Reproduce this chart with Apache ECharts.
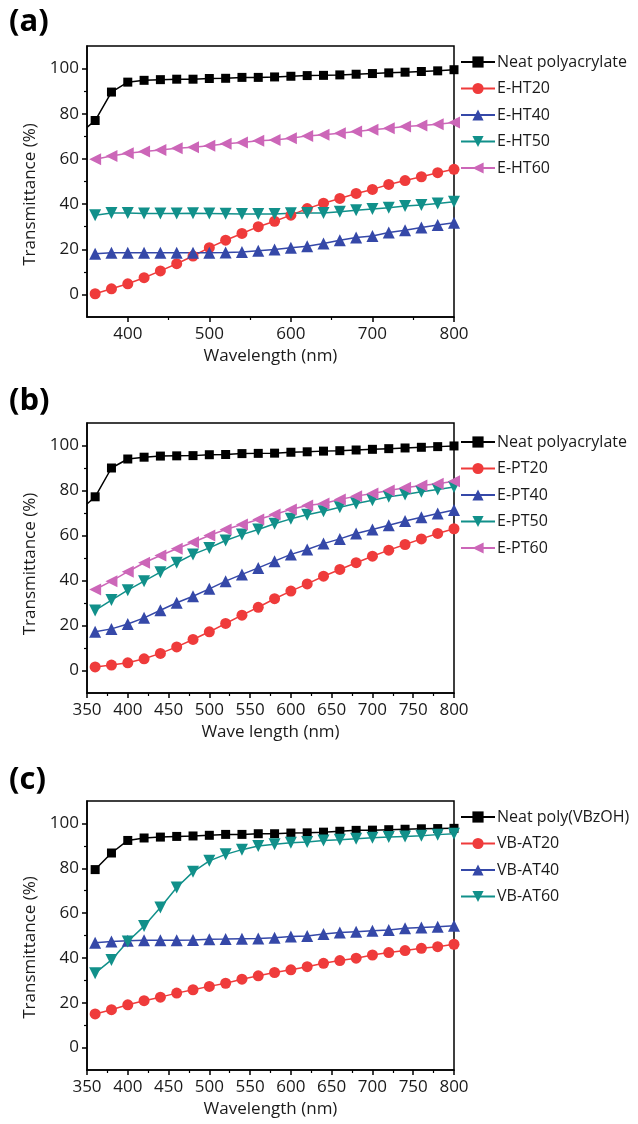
<!DOCTYPE html>
<html>
<head>
<meta charset="utf-8">
<script src="https://cdn.jsdelivr.net/npm/echarts@6/dist/echarts.min.js"></script>
<style>
  html, body { margin: 0; padding: 0; background: #fff; }
  #chart { width: 638px; height: 1124px; }
</style>
</head>
<body>
<div id="chart"></div>
<script>
// wavelengths of the marked points (nm)
const WL = [360, 380, 400, 420, 440, 460, 480, 500, 520, 540, 560, 580, 600, 620, 640, 660, 680, 700, 720, 740, 760, 780, 800]

// (a) HT series
const A_NEAT_START = 74
const A_NEAT = [77, 89.6, 94, 94.8, 95.1, 95.3, 95.3, 95.6, 95.7, 96.1, 96.1, 96.3, 96.6, 96.9, 97.0, 97.2, 97.5, 97.8, 98.1, 98.4, 98.7, 99.0, 99.5]
const A_HT20 = [0.3, 2.5, 4.7, 7.4, 10.4, 13.6, 17, 20.7, 24, 27, 30, 32.4, 35.1, 38, 40.4, 42.5, 44.7, 46.5, 48.7, 50.4, 52.1, 53.9, 55.4]
const A_HT40 = [18, 18.4, 18.4, 18.4, 18.4, 18.4, 18.5, 18.5, 18.6, 18.8, 19.3, 19.9, 20.7, 21.3, 22.5, 24, 25.2, 25.9, 27.4, 28.4, 29.6, 30.7, 31.7]
const A_HT50 = [35.1, 36.1, 36.1, 35.8, 35.8, 35.8, 35.9, 35.8, 35.7, 35.6, 35.6, 35.6, 35.9, 36.1, 36.1, 36.6, 37.3, 37.8, 38.4, 39.1, 39.6, 40.3, 41]
const A_HT60 = [59.9, 61.3, 62.5, 63.3, 64, 64.7, 65.2, 65.8, 66.7, 67.3, 68, 68.4, 69.2, 70.2, 70.7, 71.4, 72.1, 72.9, 73.6, 74.4, 74.8, 75.4, 76.1]

// (b) PT series
const B_NEAT_START = 74
const B_NEAT = [77.2, 90, 94, 94.8, 95.3, 95.4, 95.5, 95.9, 96, 96.4, 96.5, 96.6, 97, 97.2, 97.5, 97.7, 98, 98.3, 98.6, 98.9, 99.2, 99.5, 99.8]
const B_PT20 = [1.6, 2.4, 3.4, 5.2, 7.6, 10.5, 13.8, 17.2, 20.9, 24.6, 28.1, 31.9, 35.3, 38.5, 41.9, 44.9, 47.9, 50.8, 53.5, 56, 58.5, 60.9, 63]
const B_PT40 = [17.2, 18.5, 20.7, 23.4, 26.8, 30.1, 33, 36.3, 39.7, 42.7, 45.6, 48.6, 51.6, 53.8, 56.4, 58.5, 60.9, 62.7, 64.6, 66.4, 68.1, 69.8, 71.3]
const B_PT50 = [26.7, 31.3, 35.7, 39.7, 43.7, 47.9, 51.6, 54.5, 57.8, 60.4, 62.7, 65.2, 67.4, 69.2, 70.8, 72.6, 74.2, 75.7, 77.2, 78.2, 79.4, 80.4, 81.6]
const B_PT60 = [36, 39.7, 43.9, 47.9, 51.1, 54.1, 57, 60, 62.7, 64.9, 67.1, 69.3, 71.6, 73.3, 74.2, 76, 77.5, 78.7, 80, 81.2, 82.2, 83, 84.1]

// (c) VB series
const C_NEAT = [79.4, 86.8, 92.4, 93.5, 93.9, 94.2, 94.4, 94.7, 95.1, 95.1, 95.4, 95.4, 95.7, 95.8, 96.1, 96.5, 96.9, 97.0, 97.2, 97.4, 97.6, 97.7, 97.8]
const C_AT20 = [15, 16.9, 19.1, 20.9, 22.5, 24.3, 25.8, 27.3, 28.7, 30.5, 32, 33.5, 34.7, 36.1, 37.6, 38.8, 39.9, 41.3, 42.4, 43.3, 44.3, 45, 46.1]
const C_AT40 = [46.8, 47.3, 47.7, 47.9, 47.9, 47.9, 48, 48.3, 48.4, 48.6, 48.7, 49, 49.5, 49.8, 50.7, 51.3, 51.7, 52.1, 52.4, 53.2, 53.6, 53.9, 54.4]
const C_AT60 = [33.2, 39.1, 47.3, 54.2, 62.5, 71.4, 78.4, 83.3, 86.2, 88.3, 89.9, 90.7, 91.4, 91.7, 92.4, 92.7, 93.2, 93.6, 93.9, 94.2, 94.5, 95, 95.4]

// tick positions
const Y_LABELS = [0, 20, 40, 60, 80, 100]
const Y_MINOR = [10, 30, 50, 70, 90]
const XA_LABELS = [400, 500, 600, 700, 800]
const XA_MINOR = [450, 550, 650, 750]
const XB_LABELS = [350, 400, 450, 500, 550, 600, 650, 700, 750, 800]
const XB_MINOR = [375, 425, 475, 525, 575, 625, 675, 725, 775]

const FONT = '"Open Sans", "Liberation Sans", sans-serif'
const TXT = '#1a1a1a'
const C_BLACK = '#000000'
const C_RED = '#ef3b3b'
const C_BLUE = '#3548a8'
const C_TEAL = '#11908a'
const C_PINK = '#cc66b8'

const pairs = (vals) => WL.map((x, i) => [x, vals[i]])
const withStart = (start, vals) => [{ value: [350, start], symbol: 'none' }].concat(pairs(vals))

const grids = [
    { left: 87, top: 46, width: 367, height: 271 },
    { left: 87, top: 423, width: 367, height: 270 },
    { left: 87, top: 801, width: 367, height: 269 },
]

const xNames = ['Wavelength (nm)', 'Wave length (nm)', 'Wavelength (nm)']
const xLabelSets = [XA_LABELS, XB_LABELS, XB_LABELS]
const xMinorSets = [XA_MINOR, XB_MINOR, XB_MINOR]
const yNamePad = [26, 12, 24]

const xAxis = []
const yAxis = []
grids.forEach((g, i) => {
    xAxis.push({
        type: 'value', gridIndex: i, min: 350, max: 800, position: 'bottom',
        name: xNames[i], nameLocation: 'middle', nameGap: 31,
        nameTextStyle: { fontFamily: FONT, fontSize: 17, color: TXT },
        axisLine: { onZero: false, lineStyle: { color: '#000', width: 1.5 } },
        axisTick: { show: true, length: 5, inside: false, customValues: xLabelSets[i], lineStyle: { color: '#000', width: 1.5 } },
        axisLabel: { customValues: xLabelSets[i], margin: 9, fontFamily: FONT, fontSize: 17, color: TXT },
        splitLine: { show: false },
    })
    xAxis.push({
        type: 'value', gridIndex: i, min: 350, max: 800, position: 'bottom',
        axisLine: { show: false, onZero: false },
        axisTick: { show: true, length: 3, customValues: xMinorSets[i], lineStyle: { color: '#000', width: 1.2 } },
        axisLabel: { show: false },
        splitLine: { show: false },
    })
    yAxis.push({
        type: 'value', gridIndex: i, min: -10, max: 110, position: 'left',
        name: 'Transmittance (%)', nameLocation: 'middle', nameGap: 46,
        nameTextStyle: { fontFamily: FONT, fontSize: 17, color: TXT, padding: [0, yNamePad[i], 0, 0] },
        axisLine: { show: true, onZero: false, lineStyle: { color: '#000', width: 1.5 } },
        axisTick: { show: true, length: 5, customValues: Y_LABELS, lineStyle: { color: '#000', width: 1.5 } },
        axisLabel: { customValues: Y_LABELS, margin: 8, fontFamily: FONT, fontSize: 17, color: TXT },
        splitLine: { show: false },
    })
    yAxis.push({
        type: 'value', gridIndex: i, min: -10, max: 110, position: 'left',
        axisLine: { show: false, onZero: false },
        axisTick: { show: true, length: 3, customValues: Y_MINOR, lineStyle: { color: '#000', width: 1.2 } },
        axisLabel: { show: false },
        splitLine: { show: false },
    })
})

const mk = (name, panel, data, color, symbol, size, rotate) => ({
    name,
    type: 'line',
    xAxisIndex: panel * 2,
    yAxisIndex: panel * 2,
    data,
    symbol,
    symbolSize: size,
    symbolRotate: rotate || 0,
    showAllSymbol: true,
    animation: false,
    lineStyle: { color, width: 1.5 },
    itemStyle: { color, borderWidth: 0 },
    emphasis: { disabled: true },
})

const series = [
    mk('Neat polyacrylate', 0, withStart(A_NEAT_START, A_NEAT), C_BLACK, 'rect', 9),
    mk('E-HT20', 0, pairs(A_HT20), C_RED, 'circle', 11),
    mk('E-HT40', 0, pairs(A_HT40), C_BLUE, 'triangle', 12),
    mk('E-HT50', 0, pairs(A_HT50), C_TEAL, 'triangle', 12, 180),
    mk('E-HT60', 0, pairs(A_HT60), C_PINK, 'triangle', 12, 90),

    mk('Neat polyacrylate', 1, withStart(B_NEAT_START, B_NEAT), C_BLACK, 'rect', 9),
    mk('E-PT20', 1, pairs(B_PT20), C_RED, 'circle', 11),
    mk('E-PT40', 1, pairs(B_PT40), C_BLUE, 'triangle', 12),
    mk('E-PT50', 1, pairs(B_PT50), C_TEAL, 'triangle', 12, 180),
    mk('E-PT60', 1, pairs(B_PT60), C_PINK, 'triangle', 12, 90),

    mk('Neat poly(VBzOH)', 2, pairs(C_NEAT), C_BLACK, 'rect', 9),
    mk('VB-AT20', 2, pairs(C_AT20), C_RED, 'circle', 11),
    mk('VB-AT40', 2, pairs(C_AT40), C_BLUE, 'triangle', 12),
    mk('VB-AT60', 2, pairs(C_AT60), C_TEAL, 'triangle', 12, 180),
]

const legendBase = {
    orient: 'vertical', left: 455, itemWidth: 34, itemHeight: 14, itemGap: 10.5,
    selectedMode: false,
    textStyle: { fontFamily: FONT, fontSize: 16, color: TXT, padding: [0, 0, 0, -3] },
}

const legend = [
    Object.assign({}, legendBase, { top: 49, data: ['Neat polyacrylate', 'E-HT20', 'E-HT40', 'E-HT50', 'E-HT60'] }),
    Object.assign({}, legendBase, { top: 429, data: ['Neat polyacrylate', 'E-PT20', 'E-PT40', 'E-PT50', 'E-PT60'] }),
    Object.assign({}, legendBase, { top: 804, data: ['Neat poly(VBzOH)', 'VB-AT20', 'VB-AT40', 'VB-AT60'] }),
]

const panelLabel = (text, top) => ({
    type: 'text', left: 9, top,
    style: { text, fontFamily: FONT, fontSize: 31, fontWeight: 'bold', fill: '#000' },
})

const myChart = echarts.init(document.getElementById('chart'), null, { renderer: 'canvas' })
const option = {
    backgroundColor: '#fff',
    animation: false,
    grid: grids.map((g) => Object.assign({ show: true, borderColor: '#000', borderWidth: 1.5, backgroundColor: 'transparent' }, g)),
    xAxis,
    yAxis,
    legend,
    series,
    graphic: [
        panelLabel('(a)', 7),
        panelLabel('(b)', 386),
        panelLabel('(c)', 765),
    ],
}
option && myChart.setOption(option)
</script>
</body>
</html>
